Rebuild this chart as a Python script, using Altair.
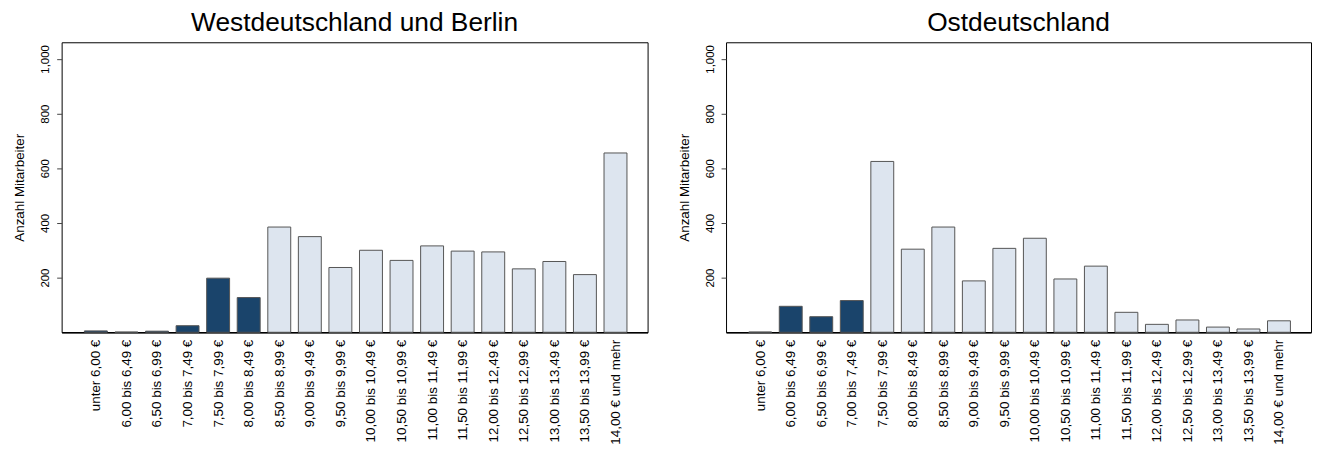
import json
import altair as alt
import pandas as pd

categories = [
    "unter 6,00 €", "6,00 bis 6,49 €", "6,50 bis 6,99 €", "7,00 bis 7,49 €",
    "7,50 bis 7,99 €", "8,00 bis 8,49 €", "8,50 bis 8,99 €", "9,00 bis 9,49 €",
    "9,50 bis 9,99 €", "10,00 bis 10,49 €", "10,50 bis 10,99 €", "11,00 bis 11,49 €",
    "11,50 bis 11,99 €", "12,00 bis 12,49 €", "12,50 bis 12,99 €", "13,00 bis 13,49 €",
    "13,50 bis 13,99 €", "14,00 € und mehr",
]
west_values = [5, 1, 4, 24, 198, 127, 385, 350, 237, 300, 263, 316, 297, 294, 232, 259, 211, 656]
east_values = [1, 95, 57, 116, 625, 304, 385, 188, 307, 344, 195, 242, 73, 29, 45, 19, 12, 42]
west_low = [1, 1, 1, 1, 1, 1, 0, 0, 0, 0, 0, 0, 0, 0, 0, 0, 0, 0]
east_low = [1, 1, 1, 1, 0, 0, 0, 0, 0, 0, 0, 0, 0, 0, 0, 0, 0, 0]
y_ticks = [200, 400, 600, 800, 1000]

FONT = "Liberation Sans"
label_expr = "[" + ",".join(json.dumps(c, ensure_ascii=False) for c in categories) + "][datum.value]"


def panel(title, values, low, width):
    df = pd.DataFrame({
        "idx": list(range(len(categories))),
        "label": categories,
        "value": values,
        "low": low,
    })
    base = alt.Chart(df).transform_calculate(
        x0="datum.idx - 0.375", x1="datum.idx + 0.375"
    )
    bars = base.mark_bar(stroke="#555555", strokeWidth=1).encode(
        x=alt.X(
            "x0:Q",
            scale=alt.Scale(domain=[-1.12, 18.05], nice=False, zero=False),
            axis=alt.Axis(
                title=None,
                values=list(range(len(categories))),
                labelExpr=label_expr,
                labelAngle=270,
                labelAlign="right",
                labelBaseline="middle",
                ticks=False,
                tickSize=0,
                labelPadding=7,
                labelFontSize=13.5,
                labelFont=FONT,
                labelColor="black",
                grid=False,
                domainColor="black",
                domainWidth=1.5,
                labelOverlap=False,
                labelBound=False,
            ),
        ),
        x2="x1:Q",
        y=alt.Y(
            "value:Q",
            scale=alt.Scale(domain=[0, 1061], nice=False),
            axis=alt.Axis(
                title="Anzahl Mitarbeiter",
                values=y_ticks,
                format=",d",
                labelAngle=270,
                labelAlign="center",
                labelBaseline="bottom",
                tickSize=5,
                tickColor="#444444",
                labelPadding=6,
                labelFontSize=11.5,
                labelFont=FONT,
                labelColor="black",
                titleFont=FONT,
                titleFontSize=13.5,
                titleFontWeight="normal",
                titleColor="black",
                titlePadding=13,
                domain=False,
                grid=False,
            ),
        ),
        y2=alt.datum(0),
        fill=alt.condition("datum.low == 1", alt.value("#1a446b"), alt.value("#dde5ef")),
    )
    return bars.properties(
        width=width,
        height=292,
        title=alt.TitleParams(
            text=title, fontSize=26.5, font=FONT, fontWeight="normal",
            anchor="middle", color="black", offset=6,
        ),
    )


chart = alt.hconcat(
    panel("Westdeutschland und Berlin", west_values, west_low, 590),
    panel("Ostdeutschland", east_values, east_low, 589),
    spacing=28,
).properties(
    padding={"left": 4, "top": 0, "right": 0, "bottom": 0}
).configure_view(stroke="black", strokeWidth=1)

chart.save("out.html", embed_options={"renderer": "svg", "actions": False})
